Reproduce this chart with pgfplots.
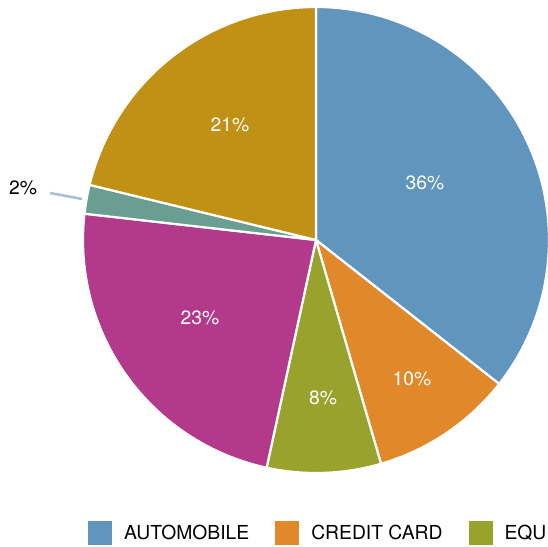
\documentclass[border=0pt]{standalone}
\usepackage{pgfplots}
\pgfplotsset{compat=1.18}
\usepackage{fontspec}
\setmainfont{TeX Gyre Heros}
\definecolor{cAuto}{RGB}{96,150,190}
\definecolor{cCredit}{RGB}{224,136,42}
\definecolor{cEqu}{RGB}{154,162,46}
\definecolor{cMag}{RGB}{179,57,139}
\definecolor{cTeal}{RGB}{106,158,146}
\definecolor{cGold}{RGB}{192,145,20}
\definecolor{cLead}{RGB}{168,190,214}
% pie centre and radius (in picture pixels)
\def\cx{316}\def\cy{306}\def\R{233}
% slice: start cumulative %, end cumulative %, colour
\newcommand{\slice}[4][]{%
  \pgfmathsetmacro\aA{90-3.6*#3}%
  \pgfmathsetmacro\aB{90-3.6*#2}%
  \addplot[#1, fill=#4, draw=white, line width=2.2pt, line join=round,
    domain=\aA:\aB, samples=80, variable=\t]
    ({\cx+\R*cos(\t)},{\cy+\R*sin(\t)}) -- (\cx,\cy) -- cycle;
}
\begin{document}
\begin{tikzpicture}
\begin{axis}[
  scale only axis, width=548pt, height=546pt,
  xmin=0, xmax=548, ymin=0, ymax=546,
  hide axis,
  legend columns=3,
  legend image code/.code={\fill[#1, draw=none] (0pt,-12pt) rectangle (24pt,12pt);},
  legend style={at={(88/548,13/546)}, anchor=west, draw=none, fill=none,
    inner sep=0pt, font=\fontsize{19.3}{21}\selectfont,
    nodes={inner sep=0pt},
    /tikz/every odd column/.append style={column sep=12pt},
    /tikz/every even column/.append style={column sep=26pt}},
]
% data: percentage shares (clockwise from 12 o'clock)
% AUTOMOBILE 35.6, CREDIT CARD 9.9, EQU 7.9, (magenta) 23.4, (teal) 2.0, (gold) 21.2
\slice{0}{35.6}{cAuto}
\addlegendentry{AUTOMOBILE}
\slice{35.6}{45.5}{cCredit}
\addlegendentry{CREDIT CARD}
\slice{45.5}{53.4}{cEqu}
\addlegendentry{EQU}
\slice[forget plot]{53.4}{76.8}{cMag}
\slice[forget plot]{76.8}{78.8}{cTeal}
\slice[forget plot]{78.8}{100}{cGold}
\path (0,0) rectangle (548,546);
\draw[cLead, line width=2.5pt] (50,353) -- (82,347);
\begin{scope}[every node/.style={font=\fontsize{19.3}{21}\selectfont, inner sep=0pt}]
\node[white] at (425,363) {36\%};
\node[white] at (412,167) {10\%};
\node[white] at (323,148) {8\%};
\node[white] at (200,228) {23\%};
\node[white] at (230,421) {21\%};
\node[black] at (23,358) {2\%};
\end{scope}
\end{axis}
\end{tikzpicture}
\end{document}
